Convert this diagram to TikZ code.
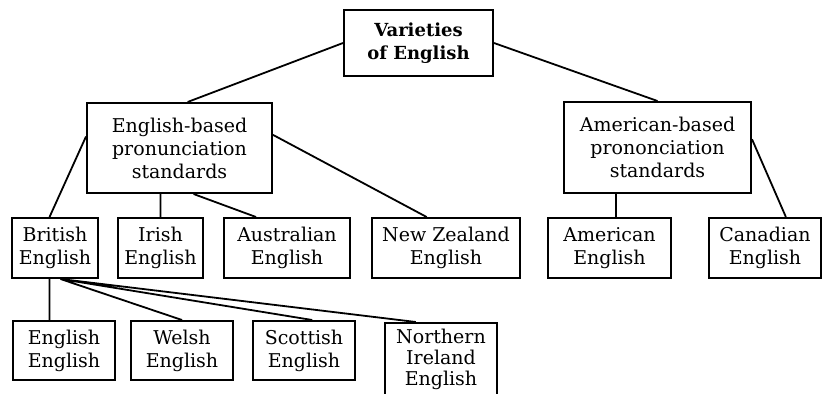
\documentclass[tikz,border=0pt]{standalone}
\usepackage{fontspec}
\setmainfont{DejaVu Serif}
\usetikzlibrary{positioning}

\begin{document}
\begin{tikzpicture}[x=1pt,y=-1pt]
        \tikzset{block/.style= {draw, rectangle, align=center, line width=2pt, inner sep=2pt,
                 font=\fontsize{19}{23}\selectfont, minimum height=60pt},
        link/.style={draw, line width=1.8pt},
        }
        \clip (0,0) rectangle (823,394);
        \node [block, minimum width=149pt, minimum height=66pt, font=\fontsize{18}{23}\selectfont\bfseries] (root) at (418.5,43) {Varieties\\of English};
        \node [block, minimum width=185pt, minimum height=90pt] (engbased) at (179.5,148) {English-based\\pronunciation\\standards};
        \node [block, minimum width=187pt, minimum height=91pt] (ambased) at (657.5,147.5) {American-based\\prononciation\\standards};

        \node [block, minimum width=86pt] (british) at (55,248) {British\\English};
        \node [block, minimum width=85pt] (irish) at (160.5,248) {Irish\\English};
        \node [block, minimum width=126pt] (australian) at (287,248) {Australian\\English};
        \node [block, minimum width=148pt] (newzealand) at (446,248) {New Zealand\\English};
        \node [block, minimum width=123pt] (american) at (609.5,248) {American\\English};
        \node [block, minimum width=112pt] (canadian) at (765,248) {Canadian\\English};

        \node [block, minimum width=102pt, minimum height=59pt] (engeng) at (64,350.5) {English\\English};
        \node [block, minimum width=102pt, minimum height=59pt] (welsh) at (182,350.5) {Welsh\\English};
        \node [block, minimum width=102pt, minimum height=59pt] (scottish) at (304,350.5) {Scottish\\English};
        \node [block, minimum width=112pt, minimum height=0pt, anchor=north, inner ysep=6pt,
               font=\fontsize{19}{21}\selectfont] (nireland) at (441,322) {Northern\\Ireland\\English};
        \coordinate (fan) at (british.-80);  %% fan point under British English

%% paths
        \path[link] (root.west) -- (engbased.80)
                    (root.east) -- (ambased.north)
                    (engbased.173) -- (british.100)
                    (irish.north |- engbased.south) -- (irish.north)
                    (engbased.-73) -- (australian.135)
                    (engbased.8) -- (newzealand.122)
                    (american.78 |- ambased.south) -- (american.78)
                    (ambased.5) -- (canadian.56)
                    (british.-100) -- (british.-100 |- engeng.north)
                    (fan) -- (welsh.north)
                    (fan) -- (scottish.75)
                    (fan) -- (nireland.124)
                    ;
\end{tikzpicture}
\end{document}
